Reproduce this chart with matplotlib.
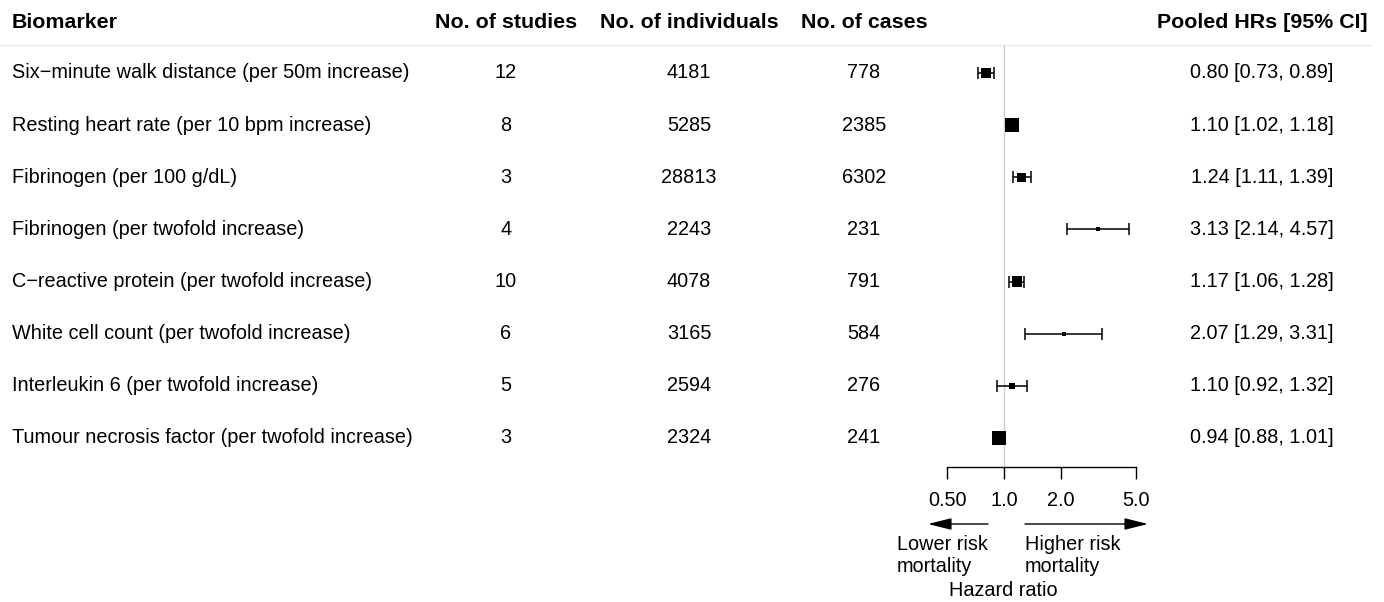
import numpy as np
import matplotlib
matplotlib.use("Agg")
import matplotlib.pyplot as plt
from matplotlib.transforms import blended_transform_factory

plt.rcParams['font.family'] = ['Liberation Sans', 'DejaVu Sans']

# ---- data -------------------------------------------------------------
biomarkers = [
    "Six\u2212minute walk distance (per 50m increase)",
    "Resting heart rate (per 10 bpm increase)",
    "Fibrinogen (per 100 g/dL)",
    "Fibrinogen (per twofold increase)",
    "C\u2212reactive protein (per twofold increase)",
    "White cell count (per twofold increase)",
    "Interleukin 6 (per twofold increase)",
    "Tumour necrosis factor (per twofold increase)",
]
n_studies = [12, 8, 3, 4, 10, 6, 5, 3]
n_individuals = [4181, 5285, 28813, 2243, 4078, 3165, 2594, 2324]
n_cases = [778, 2385, 6302, 231, 791, 584, 276, 241]
hr = [0.80, 1.10, 1.24, 3.13, 1.17, 2.07, 1.10, 0.94]
ci_low = [0.73, 1.02, 1.11, 2.14, 1.06, 1.29, 0.92, 0.88]
ci_high = [0.89, 1.18, 1.39, 4.57, 1.28, 3.31, 1.32, 1.01]

tick_values = [0.5, 1.0, 2.0, 5.0]
tick_labels = ["0.50", "1.0", "2.0", "5.0"]

headers = ["Biomarker", "No. of studies", "No. of individuals",
           "No. of cases", "Pooled HRs [95% CI]"]

# ---- figure -----------------------------------------------------------
W, H = 1384, 602
DPI = 100
fig = plt.figure(figsize=(W / DPI, H / DPI), dpi=DPI)
FS = 14.3
FS_HEAD = 15.4

# text layer in pixel coordinates
tab = fig.add_axes([0, 0, 1, 1])
tab.set_xlim(0, W)
tab.set_ylim(H, 0)
tab.axis("off")

# forest panel (log scale)
left_px, right_px, top_px, bot_px = 890, 1170, 45, 466.5
fax = fig.add_axes([left_px / W, 1 - bot_px / H,
                    (right_px - left_px) / W, (bot_px - top_px) / H])
fax.set_xscale("log")
px_per_log2 = 57.0
x0 = 1004.0
fax.set_xlim(2 ** ((left_px - x0) / px_per_log2),
             2 ** ((right_px - x0) / px_per_log2))
row_px0, row_step = 73.0, 52.14
fax.set_ylim((bot_px - row_px0) / row_step, (top_px - row_px0) / row_step)
fax.patch.set_alpha(0)

for s in ("top", "right", "left"):
    fax.spines[s].set_visible(False)
fax.spines["bottom"].set_bounds(tick_values[0], tick_values[-1])
fax.spines["bottom"].set_linewidth(1.0)
fax.set_xticks(tick_values)
fax.set_xticklabels(tick_labels, fontsize=FS)
fax.xaxis.set_minor_locator(matplotlib.ticker.NullLocator())
fax.tick_params(axis="x", direction="out", length=8.6, width=1.0, pad=9)
fax.set_yticks([])

fax.axvline(1.0, color="#cfcfcf", lw=1.0, zorder=0)

rows = np.arange(len(hr))
hr_a = np.array(hr)
lo_a = np.array(ci_low)
hi_a = np.array(ci_high)
fax.errorbar(hr_a, rows, xerr=[hr_a - lo_a, hi_a - hr_a], fmt="none",
             ecolor="black", elinewidth=1.1, capsize=4.3, capthick=1.1,
             zorder=2)

# box side proportional to precision (1 / standard error of log HR)
se = (np.log(hi_a) - np.log(lo_a)) / (2 * 1.96)
side_px = np.clip(0.5 / se, 4.0, None)
side_pt = side_px * 72 / DPI
fax.scatter(hr_a, rows, marker="s", s=side_pt ** 2, color="black",
            linewidths=0, zorder=3)

# ---- table text -------------------------------------------------------
row_tr = blended_transform_factory(tab.transData, fax.transData)
header_y = 22
col_x = [12, 506, 689, 864, 1262]
tab.text(col_x[0], header_y, headers[0], ha="left", va="center",
         fontsize=FS_HEAD, fontweight="bold")
for x, h in zip(col_x[1:], headers[1:]):
    tab.text(x, header_y, h, ha="center", va="center",
             fontsize=FS_HEAD, fontweight="bold")
tab.plot([0, 1372], [45, 45], color="#ebebeb", lw=1.0)

for i in rows:
    tab.text(col_x[0], i, biomarkers[i], ha="left", va="center",
             fontsize=FS, transform=row_tr)
    tab.text(col_x[1], i, str(n_studies[i]), ha="center", va="center",
             fontsize=FS, transform=row_tr)
    tab.text(col_x[2], i, str(n_individuals[i]), ha="center", va="center",
             fontsize=FS, transform=row_tr)
    tab.text(col_x[3], i, str(n_cases[i]), ha="center", va="center",
             fontsize=FS, transform=row_tr)
    tab.text(col_x[4], i, f"{hr[i]:.2f} [{ci_low[i]:.2f}, {ci_high[i]:.2f}]",
             ha="center", va="center", fontsize=FS, transform=row_tr)

# ---- direction arrows and axis caption --------------------------------
arrow_y = 524
ap = dict(arrowstyle="-|>,head_length=0.72,head_width=0.18", color="black",
          lw=1.0, mutation_scale=20, shrinkA=0, shrinkB=0)
tab.annotate("", xy=(928, arrow_y), xytext=(988, arrow_y), arrowprops=ap)
tab.annotate("", xy=(1148, arrow_y), xytext=(1025, arrow_y), arrowprops=ap)
tab.text(897, 545, "Lower risk", ha="left", va="center", fontsize=FS)
tab.text(897, 567, "mortality", ha="left", va="center", fontsize=FS)
tab.text(1025, 545, "Higher risk", ha="left", va="center", fontsize=FS)
tab.text(1025, 567, "mortality", ha="left", va="center", fontsize=FS)
tab.text(1003, 591, "Hazard ratio", ha="center", va="center", fontsize=FS)

fig.savefig("out.png", dpi=DPI)
